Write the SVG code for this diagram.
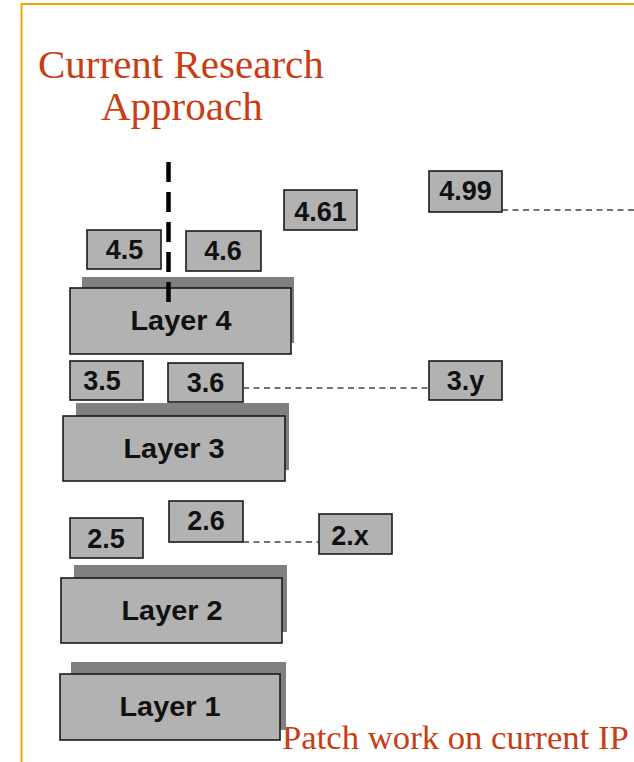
<svg xmlns="http://www.w3.org/2000/svg" width="634" height="762" viewBox="0 0 634 762">
<style>
.sh{fill:#808080}
.bx{fill:#b2b2b2;stroke:#1a1a1a;stroke-width:1.6}
.lb{font-family:"Liberation Sans",Arial,sans-serif;font-weight:bold;font-size:27px;fill:#111;text-anchor:middle}
.ly{font-size:28px}
.ttl{font-family:"Liberation Serif","Times New Roman",serif;fill:#c93c14}
.dl{fill:none;stroke:#444;stroke-width:1.3;stroke-dasharray:6,4.5}
</style>
<rect width="634" height="762" fill="#fff"/>
<path d="M21.5,762 V4 H634" fill="none" stroke="#f0a500" stroke-width="2"/>
<text class="ttl" x="38" y="78" font-size="41">Current Research</text>
<text class="ttl" x="101" y="120" font-size="41">Approach</text>
<text class="ttl" x="282" y="749" font-size="34.7">Patch work on current IP</text>

<g id="layer4"><rect class="sh" x="82" y="277" width="212" height="66"/><rect class="bx" x="70" y="288" width="221" height="66"/><text class="lb ly" x="181" y="330" textLength="101" lengthAdjust="spacingAndGlyphs">Layer 4</text></g>
<g id="layer3"><rect class="sh" x="76" y="403" width="213" height="67"/><rect class="bx" x="63" y="416" width="222" height="65"/><text class="lb ly" x="174" y="458" textLength="101" lengthAdjust="spacingAndGlyphs">Layer 3</text></g>
<g id="layer2"><rect class="sh" x="74" y="565" width="213" height="67"/><rect class="bx" x="61" y="578" width="221" height="65"/><text class="lb ly" x="172" y="620" textLength="101" lengthAdjust="spacingAndGlyphs">Layer 2</text></g>
<g id="layer1"><rect class="sh" x="71" y="662" width="215" height="68"/><rect class="bx" x="60" y="674" width="220" height="66"/><text class="lb ly" x="170" y="716" textLength="101" lengthAdjust="spacingAndGlyphs">Layer 1</text></g>

<g id="n45"><rect class="bx" x="87" y="230" width="74" height="39"/><text class="lb" x="124.5" y="259">4.5</text></g>
<g id="n46"><rect class="bx" x="186" y="231" width="75" height="40"/><text class="lb" x="223" y="260">4.6</text></g>
<g id="n461"><rect class="bx" x="284" y="190" width="73" height="40"/><text class="lb" x="320.5" y="220.5">4.61</text></g>
<g id="n499"><rect class="bx" x="429" y="171" width="73" height="41"/><text class="lb" x="465.5" y="200">4.99</text></g>
<g id="n35"><rect class="bx" x="70" y="361" width="73" height="39"/><text class="lb" x="102" y="390">3.5</text></g>
<g id="n36"><rect class="bx" x="168" y="363" width="75" height="39"/><text class="lb" x="205.5" y="391.5">3.6</text></g>
<g id="n3y"><rect class="bx" x="429" y="361" width="73" height="39"/><text class="lb" x="465.5" y="390">3.y</text></g>
<g id="n26"><rect class="bx" x="169" y="501" width="74" height="41"/><text class="lb" x="206" y="530">2.6</text></g>
<g id="n25"><rect class="bx" x="70" y="518" width="73" height="40"/><text class="lb" x="106" y="548">2.5</text></g>
<g id="n2x"><rect class="bx" x="319" y="514" width="73" height="40"/><text class="lb" x="350" y="545">2.x</text></g>

<g id="connectors">
<path class="dl" d="M502,210 H634"/>
<path class="dl" d="M243,388 H429"/>
<path class="dl" d="M243,542 H319"/>
<path d="M168.5,162 V302" fill="none" stroke="#000" stroke-width="4.5" stroke-dasharray="20,10"/>
</g>
</svg>
